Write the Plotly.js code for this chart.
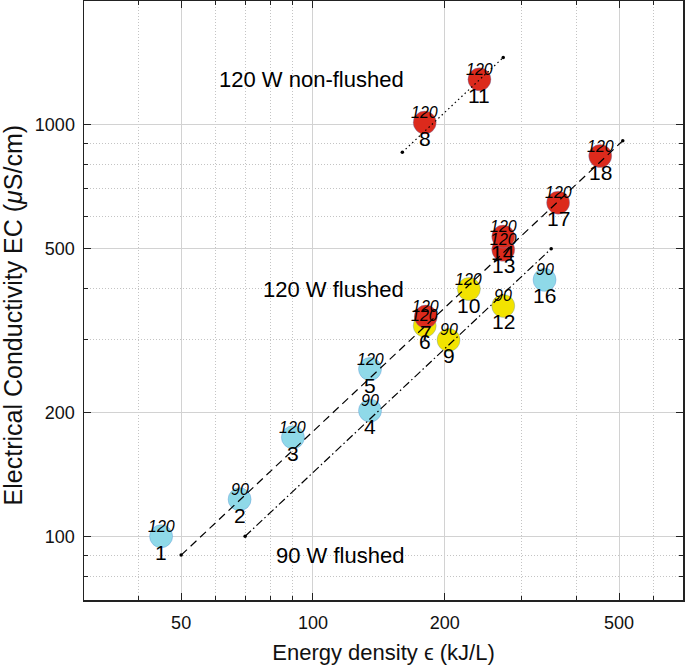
<!DOCTYPE html>
<html>
<head>
<meta charset="utf-8">
<script src="https://cdn.plot.ly/plotly-3.0.1.min.js"></script>
<style>
  html, body { margin: 0; padding: 0; background: #fff; }
  #chart { width: 685px; height: 669px; }
</style>
</head>
<body>
<div id="chart"></div>
<script>
// sample number, energy density (kJ/L), EC (uS/cm), power (W), group
let ids    = [1, 2, 3, 4, 5, 6, 7, 8, 9, 10, 11, 12, 13, 14, 16, 17, 18];
let energy = [45, 68, 90, 135, 135, 180, 181, 180, 204, 227, 240, 272, 272, 272, 338, 363, 453];
let ec     = [100, 123, 174, 202, 255, 325, 342, 1013, 300, 399, 1290, 363, 497, 535, 420, 647, 840];
let power  = [120, 90, 120, 90, 120, 120, 120, 120, 90, 120, 120, 90, 120, 120, 90, 120, 120];
let group  = ['c', 'c', 'c', 'c', 'c', 'y', 'r', 'r', 'y', 'y', 'r', 'y', 'r', 'r', 'c', 'r', 'r'];

// fit lines
let nonFlushedX = [160, 272];
let nonFlushedY = [858, 1458];
let flushed120X = [50, 510];
let flushed120Y = [90, 915];
let flushed90X  = [70, 350];
let flushed90Y  = [100, 500];

let lineLabels = ['120 W non-flushed', '120 W flushed', '90 W flushed'];
let lineLabelX = [163, 163, 163];
let lineLabelY = [1291, 397, 90];

let xTicks = [50, 100, 200, 500];
let xMinor = [40, 60, 70, 80, 90, 300, 400, 600];
let yTicks = [100, 200, 500, 1000];
let yMinor = [80, 90, 300, 400, 600, 700, 800, 900];

let groupColor = { c: '#8fd9e8', y: '#f2e300', r: '#dc2a1c' };

let font = 'Liberation Sans, Arial, Helvetica, sans-serif';

let points = {
    x: energy,
    y: ec,
    mode: 'markers',
    type: 'scatter',
    hoverinfo: 'skip',
    showlegend: false,
    marker: {
        size: 23,
        color: group.map(g => groupColor[g]),
        line: { color: 'rgba(90,140,210,0.6)', width: 0.6 }
    }
};

function fitLine(x, y, dash) {
    return {
        x: x,
        y: y,
        mode: 'lines+markers',
        type: 'scatter',
        hoverinfo: 'skip',
        showlegend: false,
        line: { color: 'black', width: 1.2, dash: dash },
        marker: { size: 3.5, color: 'black' }
    };
}

let data = [
    points,
    fitLine(nonFlushedX, nonFlushedY, '1.5px,3px'),
    fitLine(flushed120X, flushed120Y, '8px,5px'),
    fitLine(flushed90X, flushed90Y, '8px,3px,1.5px,3px')
];

let annotations = [];
for (let i = 0; i < ids.length; i++) {
    annotations.push({
        x: Math.log10(energy[i]), y: Math.log10(ec[i]),
        xref: 'x', yref: 'y',
        text: '<i>' + power[i] + '</i>',
        showarrow: false, yshift: 10,
        font: { family: font, size: 16, color: 'black' }
    });
    annotations.push({
        x: Math.log10(energy[i]), y: Math.log10(ec[i]),
        xref: 'x', yref: 'y',
        text: String(ids[i]),
        showarrow: false, yshift: -16,
        font: { family: font, size: 21, color: 'black' }
    });
}
for (let i = 0; i < lineLabels.length; i++) {
    annotations.push({
        x: Math.log10(lineLabelX[i]), y: Math.log10(lineLabelY[i]),
        xref: 'x', yref: 'y', xanchor: 'right',
        text: lineLabels[i],
        showarrow: false,
        font: { family: font, size: 22, color: 'black' }
    });
}
// y axis title, placed by hand so it sits a little below the plot centre
annotations.push({
    x: -0.117, y: 0.475,
    xref: 'paper', yref: 'paper',
    xanchor: 'center', yanchor: 'middle',
    textangle: -90,
    text: 'Electrical Conductivity EC (<i>μ</i>S/cm)',
    showarrow: false,
    font: { family: font, size: 25, color: '#111' }
});

function axisStyle(range, ticks, minor) {
    return {
        type: 'log',
        range: range,
        tickmode: 'array',
        tickvals: ticks,
        ticktext: ticks.map(String),
        ticks: 'inside',
        ticklen: 7,
        tickcolor: '#222',
        showline: true,
        linecolor: '#222',
        linewidth: 1.5,
        mirror: 'allticks',
        showgrid: true,
        gridcolor: '#d2d2d2',
        gridwidth: 1,
        zeroline: false,
        tickfont: { family: font, size: 18, color: '#111' },
        minor: {
            tickmode: 'array',
            tickvals: minor,
            ticks: 'inside',
            ticklen: 4,
            tickcolor: '#222',
            showgrid: true,
            gridcolor: '#c4c4c4',
            griddash: '1px,2px',
            gridwidth: 1
        }
    };
}

let xaxis = axisStyle([Math.log10(30), Math.log10(700)], xTicks, xMinor);
xaxis.ticklabelstandoff = 6;
xaxis.title = { text: 'Energy density ϵ (kJ/L)', standoff: 12, font: { family: font, size: 22, color: '#111' } };
let yaxis = axisStyle([Math.log10(70), Math.log10(2000)], yTicks, yMinor);
yaxis.ticklabelstandoff = 4;

let layout = {
    width: 685,
    height: 669,
    margin: { l: 84, r: 2, t: 1, b: 69 },
    paper_bgcolor: 'white',
    plot_bgcolor: 'white',
    xaxis: xaxis,
    yaxis: yaxis,
    annotations: annotations,
    showlegend: false
};

Plotly.newPlot('chart', data, layout, { staticPlot: true });
</script>
</body>
</html>
